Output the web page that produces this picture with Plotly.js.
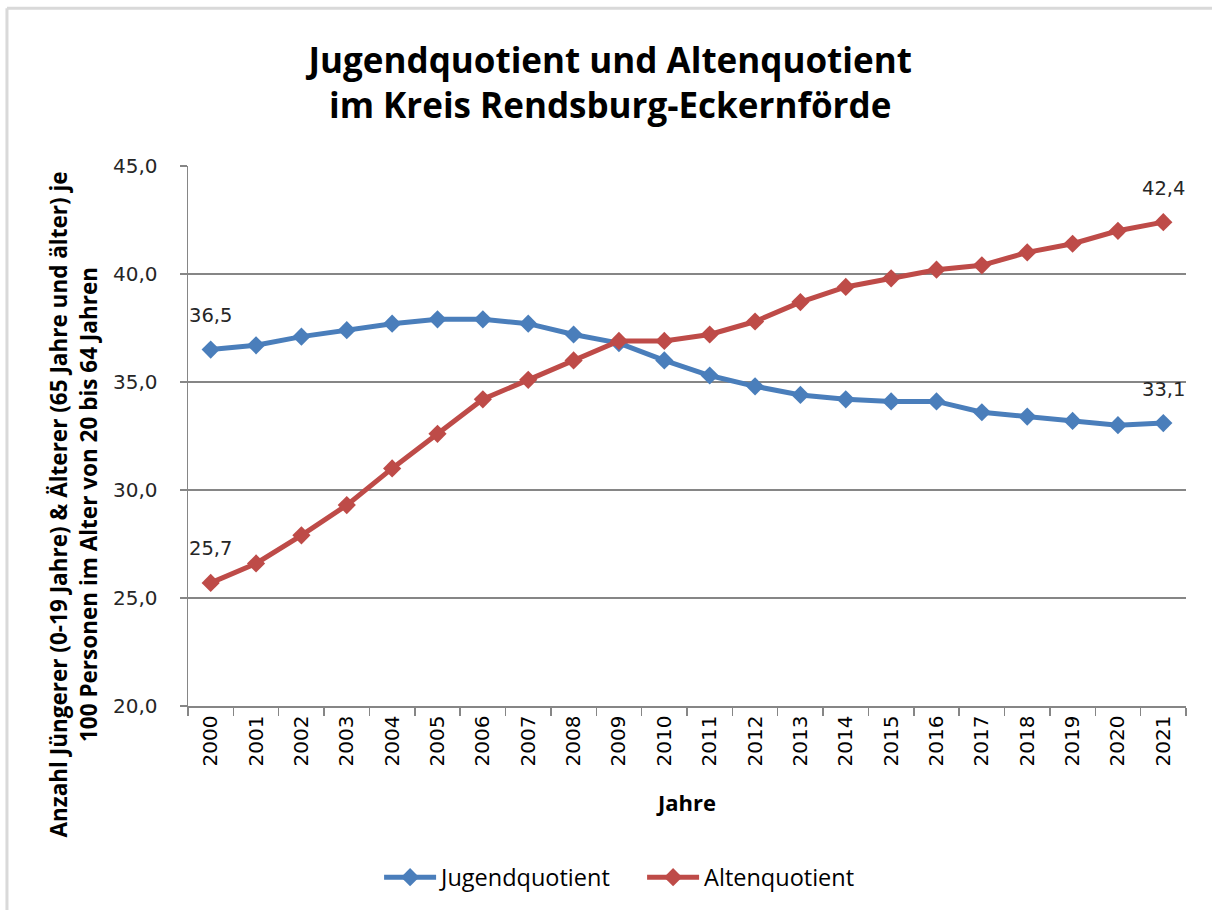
<!DOCTYPE html>
<html>
<head>
<meta charset="utf-8">
<script src="https://cdn.plot.ly/plotly-3.0.1.min.js"></script>
<style>
  html, body { margin: 0; padding: 0; background: #ffffff; }
  #chart { width: 1212px; height: 910px; }
</style>
</head>
<body>
<div id="chart"></div>
<script>
const years = ["2000","2001","2002","2003","2004","2005","2006","2007","2008","2009","2010",
               "2011","2012","2013","2014","2015","2016","2017","2018","2019","2020","2021"];
const jugendquotient = [36.5, 36.7, 37.1, 37.4, 37.7, 37.9, 37.9, 37.7, 37.2, 36.8, 36.0,
                        35.3, 34.8, 34.4, 34.2, 34.1, 34.1, 33.6, 33.4, 33.2, 33.0, 33.1];
const altenquotient  = [25.7, 26.6, 27.9, 29.3, 31.0, 32.6, 34.2, 35.1, 36.0, 36.9, 36.9,
                        37.2, 37.8, 38.7, 39.4, 39.8, 40.2, 40.4, 41.0, 41.4, 42.0, 42.4];
const seriesNames = ["Jugendquotient", "Altenquotient"];
const yTicks = [20, 25, 30, 35, 40, 45];

const blue = "#4a7ebb";
const red = "#be4b48";
const sans = "'Open Sans', sans-serif";
const tickFont = "'DejaVu Sans', Verdana, sans-serif";

function fmt(v) { return v.toFixed(1).replace(".", ","); }

const traces = [
  { x: years, y: jugendquotient, name: seriesNames[0], type: "scatter", mode: "lines+markers",
    line: { color: blue, width: 5 }, marker: { symbol: "diamond", size: 14, color: blue } },
  { x: years, y: altenquotient, name: seriesNames[1], type: "scatter", mode: "lines+markers",
    line: { color: red, width: 5 }, marker: { symbol: "diamond", size: 14, color: red } }
];

const last = years.length - 1;
const labelPoints = [
  [0, jugendquotient[0]], [0, altenquotient[0]],
  [last, jugendquotient[last]], [last, altenquotient[last]]
];
const annotations = labelPoints.map(p => ({
  x: p[0], y: p[1], xref: "x", yref: "y", text: fmt(p[1]), showarrow: false,
  yshift: 34, font: { family: tickFont, size: 19.5, color: "#262626" }
}));
// y-axis tick labels, placed with the wider gap from the axis seen in the original
yTicks.forEach(v => annotations.push({
  x: -0.028, y: v, xref: "paper", yref: "y", xanchor: "right", yanchor: "middle",
  text: fmt(v), showarrow: false, font: { family: tickFont, size: 20, color: "#262626" }
}));
annotations.push({
  xref: "paper", yref: "paper", x: -0.1152, y: 0.373, xanchor: "center", yanchor: "middle",
  textangle: -90, showarrow: false,
  text: "<b>Anzahl Jüngerer (0-19 Jahre) &amp; Älterer (65 Jahre und älter) je<br>100 Personen im Alter von 20 bis 64 Jahren</b>",
  font: { family: sans, size: 22.5, color: "#000000" }
});

const layout = {
  width: 1212, height: 910,
  margin: { l: 188, r: 26, t: 166, b: 203 },
  paper_bgcolor: "#ffffff", plot_bgcolor: "#ffffff",
  separators: ",.",
  title: {
    text: "<b>Jugendquotient und Altenquotient<br>im Kreis Rendsburg-Eckernförde</b>",
    font: { family: sans, size: 35, color: "#000000" },
    x: 0.423, xanchor: "center", xref: "paper", y: 0.92, yanchor: "middle", yref: "container"
  },
  xaxis: {
    type: "category", range: [-0.5, 21.5], tickson: "boundaries",
    ticks: "outside", ticklen: 8, tickcolor: "#868686", tickwidth: 1.5,
    showline: true, linecolor: "#868686", linewidth: 1.5,
    showgrid: false, tickangle: -90,
    tickfont: { family: tickFont, size: 20, color: "#000000" },
    title: { text: "<b>Jahre</b>", font: { family: sans, size: 22, color: "#000000" }, standoff: 30 },
    fixedrange: true
  },
  yaxis: {
    range: [20, 45], tickvals: yTicks, showticklabels: false,
    ticks: "outside", ticklen: 7, tickcolor: "#868686", tickwidth: 1.5,
    showline: true, linecolor: "#868686", linewidth: 1.5,
    showgrid: true, gridcolor: "#868686", gridwidth: 1.5, zeroline: false,
    fixedrange: true
  },
  legend: {
    orientation: "h", x: 0.455, xanchor: "center", y: -0.315, yanchor: "middle",
    font: { family: sans, size: 23.5, color: "#000000" },
    itemwidth: 52, traceorder: "normal", entrywidth: 196
  },
  annotations: annotations,
  shapes: [
    { type: "line", xref: "paper", yref: "paper", x0: -0.1814, x1: 1.1, y0: 1.292, y1: 1.292,
      line: { color: "#d9d9d9", width: 3 } },
    { type: "line", xref: "paper", yref: "paper", x0: -0.1814, x1: -0.1814, y0: 1.292, y1: -0.4,
      line: { color: "#d9d9d9", width: 3 } }
  ],
  showlegend: true
};

Plotly.newPlot("chart", traces, layout, { displayModeBar: false, staticPlot: true });
</script>
</body>
</html>
